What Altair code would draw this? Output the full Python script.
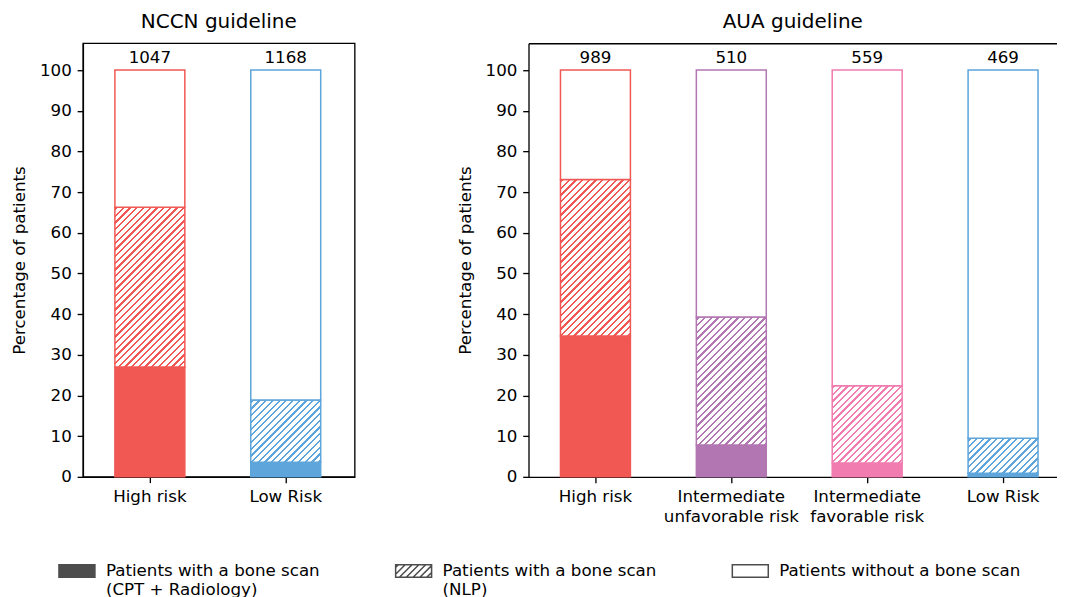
import altair as alt

FONT = "DejaVu Sans"
FS = 16.7

# ---------------- data ----------------
nccn_groups = ["High risk", "Low Risk"]
nccn_n = [1047, 1168]
nccn_cpt = [27.0, 3.6]      # % with bone scan (CPT + Radiology)
nccn_nlp = [39.3, 15.3]     # % with bone scan found by NLP only

aua_groups = ["High risk", "Intermediate\nunfavorable risk",
              "Intermediate\nfavorable risk", "Low Risk"]
aua_n = [989, 510, 559, 469]
aua_cpt = [34.6, 7.8, 3.4, 0.9]
aua_nlp = [38.5, 31.5, 19.0, 8.6]

legend_labels = ["Patients with a bone scan\n(CPT + Radiology)",
                 "Patients with a bone scan\n(NLP)",
                 "Patients without a bone scan"]
y_ticks = list(range(0, 101, 10))

# ---------------- styles ----------------
RED = "#F15854"
BLUE = "#5DA5DA"
PURPLE = "#B276B2"
PINK = "#F17CB0"
GRAY = "#4D4D4D"
nccn_colors = [RED, BLUE]
aua_colors = [RED, PURPLE, PINK, BLUE]

PLOT_H = 434
Y_MAX = 106.6
STEP = 136.0
BAR_W = 70.0
PAD_IN = (STEP - BAR_W) / STEP
LEFT_W = 272
RIGHT_W = 529
HATCH_P = 6.7
HATCH_T = 2.3


def hatch(color, w, h):
    """Linear gradient with hard stops that draws '/' hatching on a w x h rect."""
    L = w + h
    k = L / (w * w + h * h)
    stops = [{"offset": 0, "color": "white"}]
    c = 1.5
    while c < L:
        c1 = min(c + HATCH_T, L)
        o0 = round(c / L, 5)
        o1 = round(c1 / L, 5)
        stops += [{"offset": o0, "color": "white"},
                  {"offset": o0, "color": color},
                  {"offset": o1, "color": color},
                  {"offset": o1, "color": "white"}]
        c += HATCH_P
    stops.append({"offset": 1, "color": "white"})
    return {"gradient": "linear", "x1": 0, "y1": 0,
            "x2": round(k * w, 5), "y2": round(k * h, 5), "stops": stops}


def hatch_path():
    hh = 0.35
    parts = [f"M-1,-{hh}H1V{hh}H-1Z"]
    c = -1.2
    while c < 1.35:
        x0 = max(c - hh, -1.0)
        x1 = min(c + hh, 1.0)
        if x1 > x0:
            parts.append(f"M{x0:.3f},{c - x0:.3f}L{x1:.3f},{c - x1:.3f}")
        c += 0.38
    return "".join(parts)


legend_shapes = ["M-1,-0.35H1V0.35H-1Z", hatch_path(), "M-1,-0.35H1V0.35H-1Z"]
legend_fills = [GRAY, "transparent", "white"]
legend_strokes = [GRAY, GRAY, GRAY]


def legend_def():
    return alt.Legend(title=None, orient="none", legendX=-25, legendY=509,
                      direction="horizontal", columns=3, columnPadding=73,
                      symbolSize=1296, symbolStrokeWidth=1.5, symbolOpacity=1,
                      labelFont=FONT, labelFontSize=FS, labelColor="black",
                      labelOffset=10, labelLimit=500,
                      labelExpr="indexof(datum.label, '\\n') >= 0 ? "
                                "split(datum.label, '\\n') : [datum.label, '']")


def panel(title, groups, ns, cpts, nlps, colors, width, outer_left, right_side=False):
    n = len(groups)
    outer_total = width - STEP * (n - PAD_IN)
    pad_out = outer_total / 2 / STEP
    align = outer_left / outer_total

    seg = []
    for g, c, p, col in zip(groups, cpts, nlps, colors):
        h = p * PLOT_H / Y_MAX
        seg.append({"group": g, "lo": 0, "hi": c, "line": col, "fill": col})
        seg.append({"group": g, "lo": c, "hi": c + p, "line": col,
                    "fill": hatch(col, BAR_W, h)})
        seg.append({"group": g, "lo": c + p, "hi": 100, "line": col, "fill": "white"})
    counts = [{"group": g, "n": str(v)} for g, v in zip(groups, ns)]

    def xscale():
        return alt.Scale(domain=groups, paddingInner=PAD_IN,
                         paddingOuter=pad_out, align=align)

    bottom_axis = alt.Axis(title=None, labelAngle=0, labelLineHeight=20,
                           labelExpr="split(datum.label, '\\n')")
    yscale = alt.Scale(domain=[0, Y_MAX], nice=False, zero=True)
    bars = alt.Chart(alt.Data(values=seg)).mark_bar(strokeWidth=1.5).encode(
        x=alt.X("group:N", sort=groups, scale=xscale(), axis=bottom_axis),
        y=alt.Y("lo:Q", scale=yscale,
                axis=alt.Axis(values=y_ticks, title="Percentage of patients",
                              titlePadding=10.7)),
        y2="hi:Q",
        fill=alt.Fill("fill:N", scale=None),
        stroke=alt.Stroke("line:N", scale=None),
    )
    if right_side:
        text_x = alt.X("group:N", sort=groups, scale=xscale(),
                       axis=alt.Axis(orient="top", title=None, labels=False, ticks=False,
                                     domain=True, domainColor="black", domainWidth=1.33))
    else:
        text_x = alt.X("group:N", sort=groups, scale=xscale(), axis=bottom_axis)
    texts = alt.Chart(alt.Data(values=counts)).mark_text(
        baseline="alphabetic", dy=-7, fontSize=FS, font=FONT, color="black"
    ).encode(x=text_x, y=alt.datum(100), text="n:N")
    layers = [bars, texts]
    if right_side:
        leg = alt.Chart(alt.Data(values=[{"k": l} for l in legend_labels])).transform_filter(
            "false").mark_point(opacity=1, filled=True).encode(
            shape=alt.Shape("k:N", scale=alt.Scale(domain=legend_labels, range=legend_shapes),
                            legend=legend_def()),
            fill=alt.Fill("k:N", scale=alt.Scale(domain=legend_labels, range=legend_fills),
                          legend=legend_def()),
            stroke=alt.Stroke("k:N", scale=alt.Scale(domain=legend_labels, range=legend_strokes),
                              legend=legend_def()),
        )
        layers.append(leg)
    ch = alt.layer(*layers).properties(
        width=width, height=PLOT_H,
        title=alt.TitleParams(title, fontSize=20, fontWeight="normal", font=FONT,
                              color="black", frame="group", anchor="middle",
                              baseline="alphabetic", offset=-4.4),
    )
    if right_side:
        ch = ch.resolve_axis(x="independent").properties(
            view=alt.ViewBackground(stroke=None))
    return ch


left = panel("NCCN guideline", nccn_groups, nccn_n, nccn_cpt, nccn_nlp, nccn_colors,
             LEFT_W, 32)
right = panel("AUA guideline", aua_groups, aua_n, aua_cpt, aua_nlp, aua_colors,
              RIGHT_W, 32, right_side=True)

chart = alt.hconcat(left, right, spacing=174, bounds="flush").properties(
    padding={"left": 3, "top": 2, "right": 0, "bottom": 0}
).configure(font=FONT).configure_view(
    stroke="black", strokeWidth=1.33
).configure_axis(
    grid=False, domainColor="black", domainWidth=1.33, tickColor="black",
    tickWidth=1.33, tickSize=5.8, labelPadding=5.8, labelFontSize=FS,
    labelColor="black", labelFont=FONT, titleFont=FONT, titleFontSize=FS,
    titleFontWeight="normal", titleColor="black"
)

chart.save("out.html", embed_options={"renderer": "svg", "actions": False})
